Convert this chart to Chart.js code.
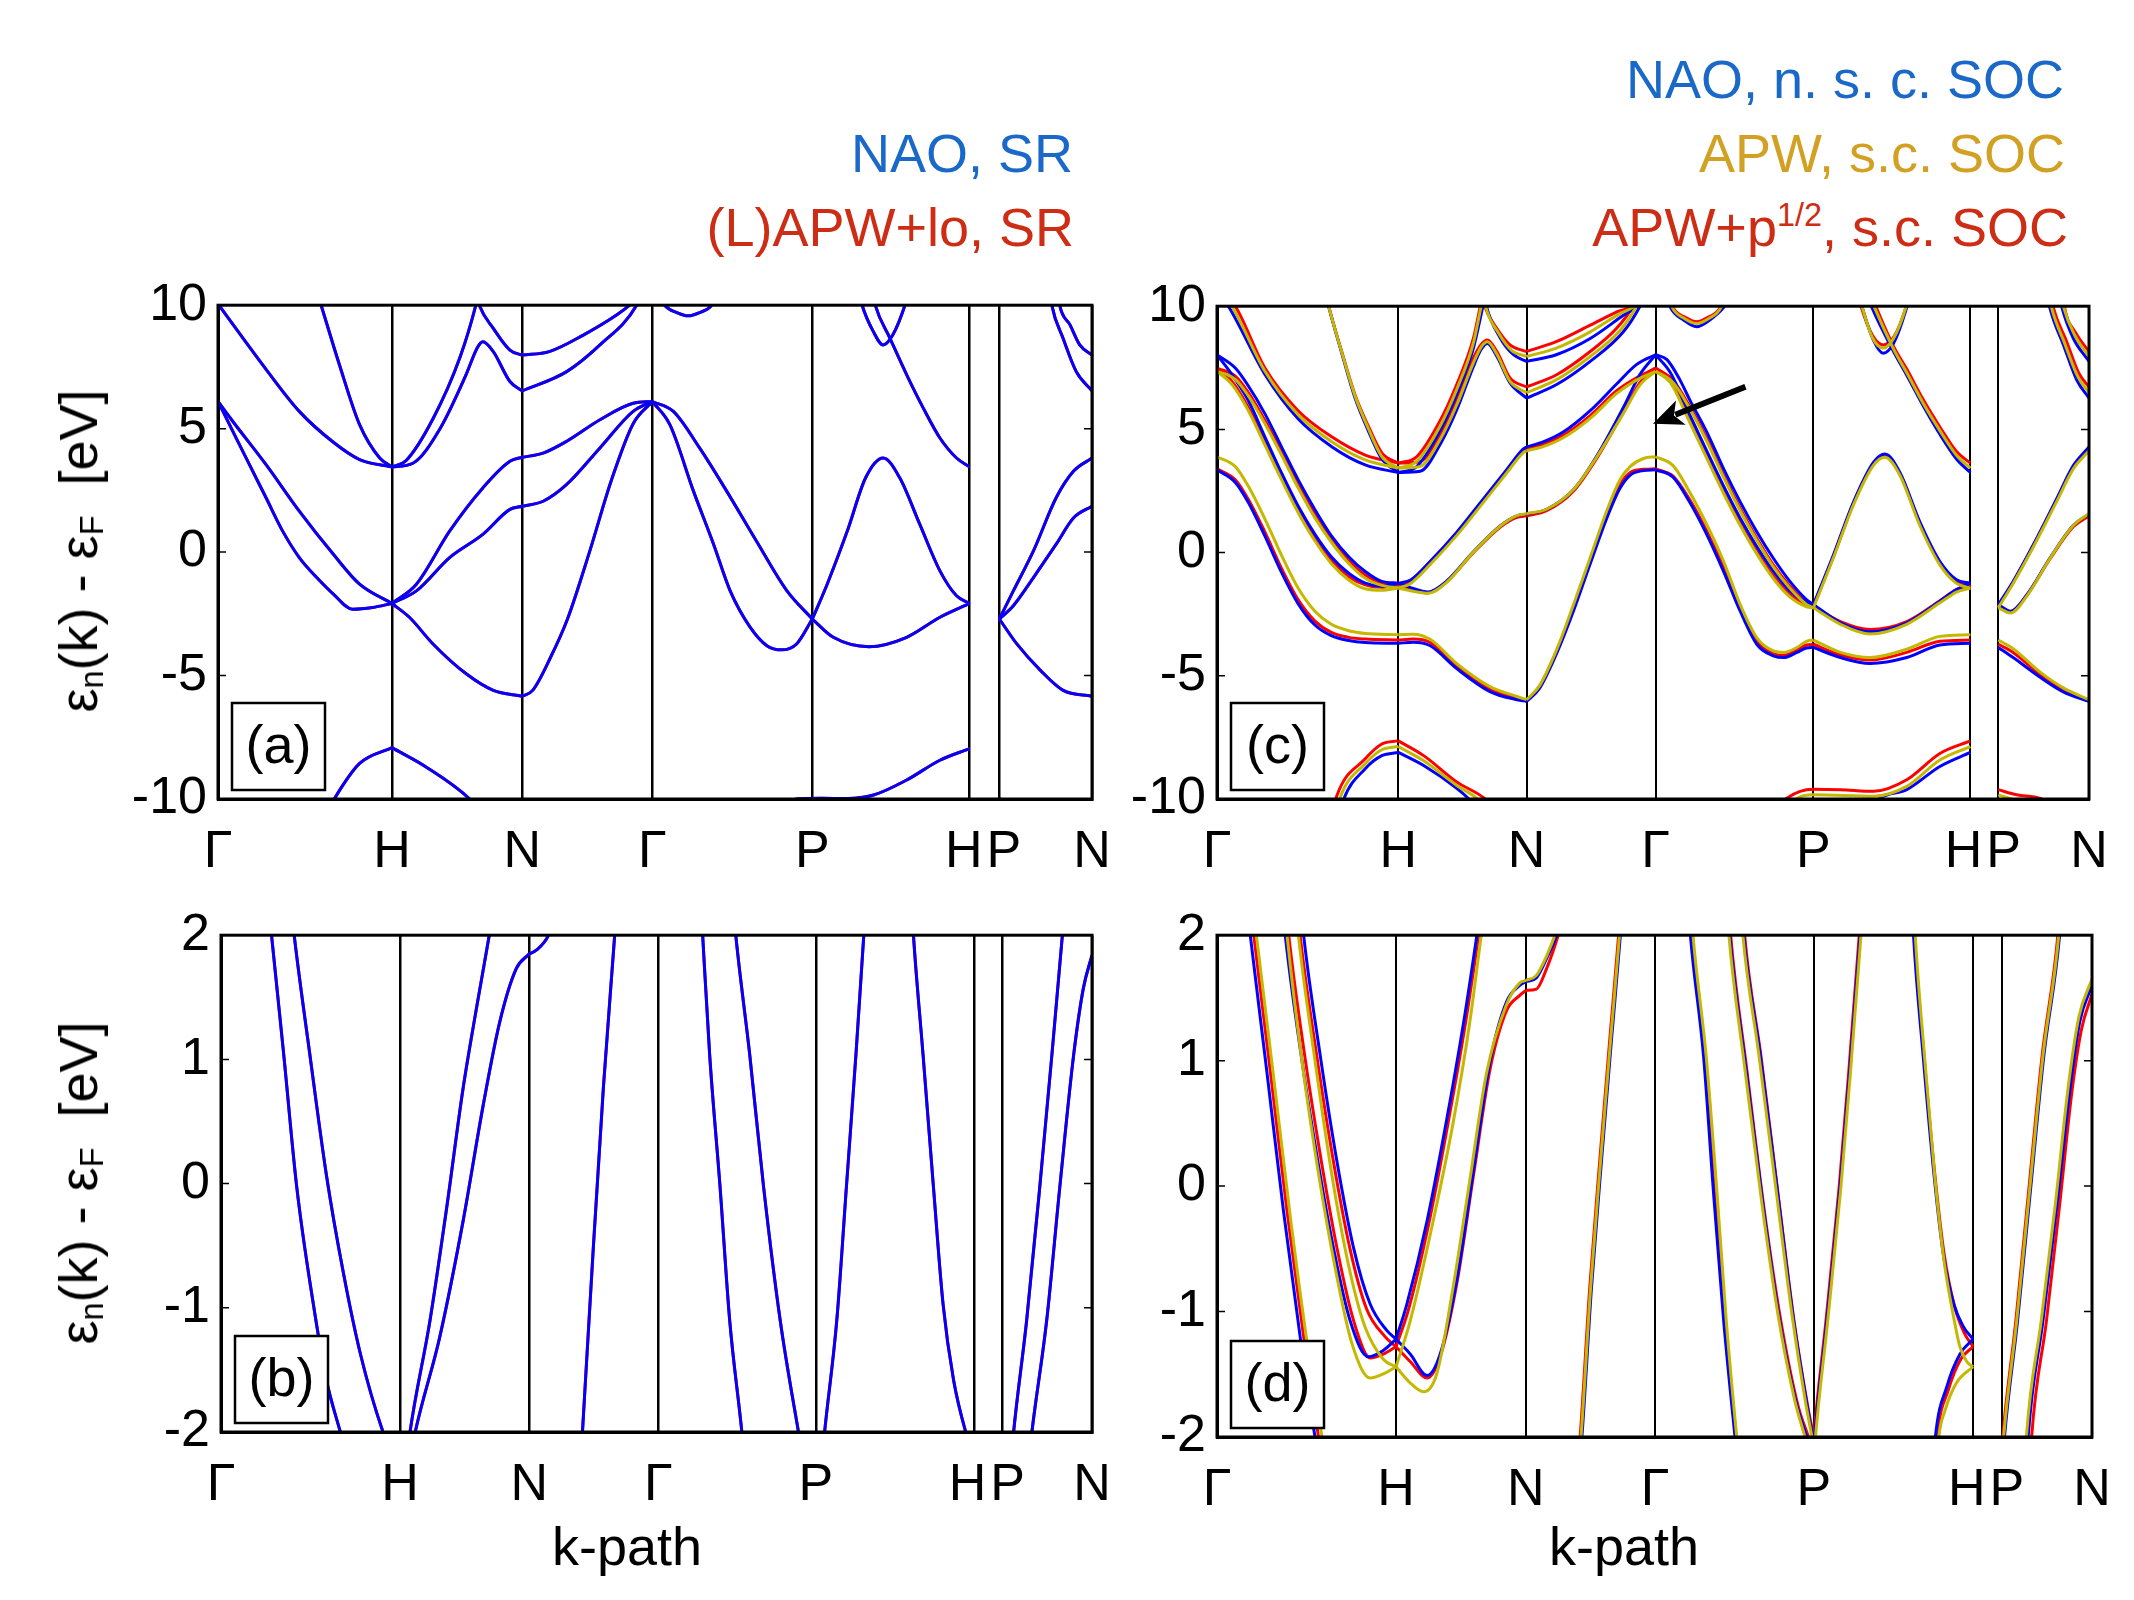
<!DOCTYPE html>
<html>
<head>
<meta charset="utf-8">
<script src="https://cdn.jsdelivr.net/npm/chart.js@4.4.1/dist/chart.umd.min.js"></script>
<style>
body { margin: 0; background: #fff; }
#page { position: relative; width: 2134px; height: 1600px; overflow: hidden; font-family: 'Liberation Sans', Arial, sans-serif; }
canvas { position: absolute; }
.leg { position: absolute; font-size: 54px; line-height: 54px; white-space: nowrap; text-align: right; }
.ytitle { position: absolute; font-size: 54px; line-height: 54px; white-space: nowrap; transform: translate(-50%, -50%) rotate(-90deg); }
.xtitle { position: absolute; font-size: 54px; line-height: 54px; white-space: nowrap; transform: translateX(-50%); }
sub { font-size: 60%; vertical-align: -0.2em; line-height: 0; }
sup { font-size: 60%; vertical-align: 0.62em; line-height: 0; }
</style>
</head>
<body>
<div id="page">
  <canvas id="panelA"></canvas>
  <canvas id="panelB"></canvas>
  <canvas id="panelC"></canvas>
  <canvas id="panelD"></canvas>

  <div class="leg" style="right:1061px; top:126px; color:#1a69c9">NAO, SR</div>
  <div class="leg" style="right:1060px; top:200px; color:#cc2d14">(L)APW+lo, SR</div>
  <div class="leg" style="right:70px; top:52px; color:#1a69c9">NAO, n. s. c. SOC</div>
  <div class="leg" style="right:69px; top:126px; color:#d2a023">APW, s.c. SOC</div>
  <div class="leg" style="right:66px; top:200px; color:#cc2d14">APW+p<sup>1/2</sup>, s.c. SOC</div>

  <div class="ytitle" style="left:78px; top:551px">&epsilon;<sub>n</sub>(k) - &epsilon;<sub>F</sub>&nbsp; [eV]</div>
  <div class="ytitle" style="left:78px; top:1183px">&epsilon;<sub>n</sub>(k) - &epsilon;<sub>F</sub>&nbsp; [eV]</div>
  <div class="xtitle" style="left:627px; top:1519px">k-path</div>
  <div class="xtitle" style="left:1624px; top:1519px">k-path</div>
</div>

<script>
// k-path labels and tick positions (fraction of the path) for each panel
const kPathLabels = ['Γ', 'H', 'N', 'Γ', 'P', 'H', 'P', 'N'];
const kTicksA = [0, 0.199, 0.348, 0.497, 0.680, 0.860, 0.894, 1.0];
const kTicksB = [0, 0.2055, 0.354, 0.502, 0.683, 0.865, 0.897, 1.0];
const kTicksC = [0, 0.208, 0.355, 0.503, 0.684, 0.864, 0.896, 1.0];
const kTicksD = [0, 0.2046, 0.353, 0.5006, 0.682, 0.864, 0.897, 1.0];
const eTicksWide = [-10, -5, 0, 5, 10];
const eTicksNarrow = [-2, -1, 0, 1, 2];

// (a) scalar relativistic, NAO; each entry is one band between two high-symmetry points, [k, E]
const bandsA_NAO = [
  [[0,6.1],[0.017,4.89],[0.036,3.54],[0.055,2.20],[0.074,0.85],[0.093,-0.22],[0.113,-1.03],[0.132,-1.70],[0.154,-2.31],[0.177,-2.24],[0.199,-2.08]],
  [[0,6.1],[0.017,5.29],[0.055,3.54],[0.093,1.66],[0.132,-0.09],[0.162,-1.30],[0.199,-2.08]],
  [[0,10.05],[0.055,7.4],[0.093,5.7],[0.132,4.45],[0.162,3.75],[0.199,3.45]],
  [[0.105,11.5],[0.118,10],[0.139,7.58],[0.162,5.16],[0.185,3.81],[0.199,3.45]],
  [[0.115,-11.2],[0.133,-10],[0.162,-8.56],[0.199,-7.92]],
  [[0.199,3.45],[0.215,3.7],[0.246,5.4],[0.277,7.9],[0.295,10],[0.30,10.8]],
  [[0.199,3.45],[0.223,3.6],[0.254,5.0],[0.284,7.2],[0.297,8.3],[0.303,8.52],[0.315,8.12],[0.334,6.91],[0.348,6.53]],
  [[0.293,10.8],[0.299,10],[0.315,9.06],[0.334,8.18],[0.348,7.98]],
  [[0.199,-2.08],[0.227,-1.30],[0.265,0.85],[0.303,2.60],[0.334,3.68],[0.348,3.84]],
  [[0.199,-2.08],[0.227,-1.57],[0.265,-0.22],[0.303,0.72],[0.334,1.73],[0.348,1.86]],
  [[0.199,-2.08],[0.219,-2.64],[0.246,-3.72],[0.284,-4.93],[0.315,-5.60],[0.348,-5.84]],
  [[0.199,-7.92],[0.238,-8.7],[0.288,-10],[0.30,-10.5]],
  [[0.348,7.98],[0.379,8.12],[0.418,8.79],[0.456,9.6],[0.471,10],[0.48,10.3]],
  [[0.348,6.53],[0.399,7.31],[0.437,8.39],[0.479,10],[0.485,10.5]],
  [[0.348,3.84],[0.372,4.01],[0.399,4.49],[0.437,5.36],[0.475,6.03],[0.497,6.1]],
  [[0.348,1.86],[0.372,2.06],[0.399,2.74],[0.437,4.22],[0.475,5.70],[0.497,6.1]],
  [[0.348,-5.84],[0.36,-5.6],[0.38,-4.3],[0.40,-2.7],[0.425,0],[0.45,2.9],[0.475,5.2],[0.497,6.1]],
  [[0.497,6.1],[0.517,5.16],[0.544,2.47],[0.567,0.32],[0.586,-1.57],[0.609,-3.05],[0.628,-3.79],[0.645,-3.96],[0.662,-3.72],[0.680,-2.71]],
  [[0.497,6.1],[0.521,5.7],[0.551,4.22],[0.582,2.47],[0.616,0.45],[0.651,-1.57],[0.680,-2.71]],
  [[0.503,10.5],[0.511,10],[0.525,9.70],[0.538,9.57],[0.551,9.70],[0.565,10],[0.572,10.5]],
  [[0.680,-2.71],[0.697,-1.30],[0.720,0.85],[0.741,3.01],[0.761,3.81],[0.780,3.01],[0.803,1.12],[0.826,-0.76],[0.845,-1.77],[0.860,-2.08]],
  [[0.680,-2.71],[0.704,-3.45],[0.745,-3.83],[0.788,-3.45],[0.826,-2.64],[0.860,-2.08]],
  [[0.64,-10.5],[0.662,-10],[0.690,-9.97],[0.720,-9.98],[0.750,-9.84],[0.788,-9.23],[0.826,-8.43],[0.860,-7.96]],
  [[0.749,10.5],[0.752,10],[0.769,8.65],[0.788,7.18],[0.807,5.83],[0.826,4.62],[0.845,3.81],[0.860,3.45]],
  [[0.733,10.6],[0.737,10],[0.750,8.92],[0.761,8.39],[0.772,8.79],[0.786,10],[0.79,10.5]],
  [[0.894,-2.71],[0.910,-1.57],[0.933,0.05],[0.959,2.2],[0.979,3.28],[1.0,3.81]],
  [[0.894,-2.71],[0.910,-2.17],[0.933,-1.03],[0.959,0.32],[0.979,1.39],[1.0,1.86]],
  [[0.894,-2.71],[0.914,-3.72],[0.941,-4.79],[0.967,-5.6],[1.0,-5.84]],
  [[0.952,10.5],[0.954,10],[0.967,8.65],[0.982,7.31],[1.0,6.53]],
  [[0.961,10.5],[0.963,10],[0.975,9.19],[0.986,8.39],[1.0,7.98]],
  [[0.894,-10],[0.914,-10.17],[0.941,-10.44]]
];
// (L)APW+lo lies exactly under the NAO curves in the picture
const bandsA_LAPW = bandsA_NAO;

// (b) zoom around the Fermi level, scalar relativistic
const bandsB_NAO = [
  [[0.045,2.9],[0.058,2.0],[0.072,1.04],[0.087,-0.03],[0.106,-0.97],[0.121,-1.58],[0.137,-2.0],[0.145,-2.2]],
  [[0.072,2.8],[0.084,2.0],[0.102,1.04],[0.121,0.07],[0.140,-0.70],[0.160,-1.37],[0.186,-2.0],[0.195,-2.15]],
  [[0.210,-2.4],[0.217,-2.0],[0.240,-1.10],[0.259,-0.20],[0.278,0.77],[0.294,1.44],[0.308,2.0],[0.315,2.3]],
  [[0.215,-2.3],[0.223,-2.0],[0.251,-1.24],[0.278,-0.30],[0.301,0.63],[0.320,1.30],[0.339,1.73],[0.354,1.85]],
  [[0.354,1.85],[0.362,1.88],[0.376,2.0],[0.385,2.2]],
  [[0.410,-2.6],[0.415,-2.0],[0.427,-0.57],[0.439,0.77],[0.452,2.0],[0.457,2.5]],
  [[0.549,2.5],[0.553,2.0],[0.561,1.04],[0.573,-0.03],[0.584,-1.10],[0.598,-2.0],[0.602,-2.3]],
  [[0.586,2.4],[0.591,2.0],[0.607,1.04],[0.623,-0.03],[0.642,-1.10],[0.663,-2.0],[0.668,-2.2]],
  [[0.689,-2.3],[0.693,-2.0],[0.707,-1.10],[0.718,-0.03],[0.729,1.04],[0.738,2.0],[0.741,2.3]],
  [[0.791,2.5],[0.795,2.0],[0.806,1.04],[0.818,-0.03],[0.829,-0.97],[0.841,-1.58],[0.855,-2.0],[0.86,-2.1]],
  [[0.905,-2.4],[0.910,-2.0],[0.925,-1.10],[0.940,-0.03],[0.954,1.04],[0.966,2.0],[0.97,2.3]],
  [[0.925,-2.4],[0.931,-2.0],[0.948,-1.10],[0.963,-0.03],[0.979,1.04],[0.990,1.57],[1.0,1.84]]
];
const bandsB_LAPW = bandsB_NAO;

// (c) with spin-orbit coupling: NAO (non self-consistent), APW, APW+p1/2
const bandsC_NAO = [
  [[0.0,10.6],[0.013,10],[0.055,7.23],[0.093,5.43],[0.132,4.29],[0.170,3.56],[0.208,3.25]],
  [[0.124,10.6],[0.128,10],[0.143,8.1],[0.158,6.3],[0.174,4.9],[0.189,3.8],[0.208,3.25]],
  [[0,8.03],[0.021,7.49],[0.036,6.76],[0.055,5.63],[0.074,4.29],[0.093,2.96],[0.112,1.76],[0.131,0.69],[0.151,-0.17],[0.170,-0.77],[0.189,-1.17],[0.208,-1.24]],
  [[0,8.03],[0.017,7.23],[0.036,6.16],[0.055,4.69],[0.074,3.23],[0.093,1.89],[0.112,0.76],[0.131,-0.17],[0.151,-0.84],[0.170,-1.24],[0.189,-1.37],[0.208,-1.24]],
  [[0,3.36],[0.021,2.85],[0.036,2.03],[0.055,0.67],[0.074,-0.80],[0.093,-2.07],[0.112,-2.93],[0.131,-3.37],[0.151,-3.57],[0.170,-3.65],[0.208,-3.68]],
  [[0.138,-11],[0.145,-10.04],[0.170,-8.77],[0.189,-8.24],[0.208,-8.11]],
  [[0.208,3.25],[0.229,3.49],[0.256,4.96],[0.275,6.43],[0.294,8.29],[0.305,10],[0.309,10.6]],
  [[0.208,3.25],[0.233,3.3],[0.256,4.4],[0.275,5.8],[0.294,7.55],[0.303,8.25],[0.310,8.49],[0.321,7.96],[0.336,6.89],[0.355,6.27]],
  [[0.306,10.6],[0.309,10],[0.325,8.7],[0.340,8.03],[0.355,7.76]],
  [[0.208,-1.24],[0.222,-1.11],[0.244,-0.37],[0.275,0.83],[0.305,2.16],[0.332,3.36],[0.351,4.2],[0.355,4.29]],
  [[0.208,-1.24],[0.222,-1.42],[0.242,-1.6],[0.263,-1.17],[0.294,0.03],[0.325,1.09],[0.344,1.49],[0.355,1.56]],
  [[0.208,-3.68],[0.225,-3.64],[0.244,-3.77],[0.275,-4.71],[0.313,-5.64],[0.344,-5.97],[0.355,-6.04]],
  [[0.208,-8.11],[0.237,-8.64],[0.275,-9.57],[0.290,-10.04],[0.30,-10.5]],
  [[0.355,7.76],[0.389,8.03],[0.428,8.69],[0.466,9.63],[0.481,10],[0.487,10.3]],
  [[0.355,6.27],[0.390,6.83],[0.428,7.76],[0.466,8.96],[0.485,10],[0.49,10.4]],
  [[0.355,4.29],[0.374,4.49],[0.397,4.89],[0.428,5.76],[0.458,6.83],[0.481,7.63],[0.503,8.03]],
  [[0.355,1.56],[0.378,1.76],[0.409,2.56],[0.435,3.89],[0.466,5.89],[0.485,7.23],[0.503,8.03]],
  [[0.355,-6.04],[0.370,-5.5],[0.390,-4.05],[0.409,-2.35],[0.428,-0.45],[0.447,1.4],[0.462,2.6],[0.474,3.15],[0.489,3.33],[0.503,3.36]],
  [[0.503,8.03],[0.516,7.83],[0.531,7.0],[0.542,6.21],[0.562,4.87],[0.581,3.40],[0.600,2.06],[0.619,0.85],[0.638,-0.23],[0.657,-1.17],[0.676,-1.91],[0.684,-2.11]],
  [[0.503,8.03],[0.520,7.3],[0.542,5.6],[0.562,4.1],[0.581,2.7],[0.600,1.4],[0.619,0.25],[0.638,-0.75],[0.657,-1.55],[0.676,-2.02],[0.684,-2.11]],
  [[0.503,3.36],[0.523,3.06],[0.542,2.05],[0.562,0.71],[0.581,-0.77],[0.600,-2.38],[0.619,-3.72],[0.638,-4.19],[0.650,-4.26],[0.665,-4.05],[0.676,-3.87],[0.684,-3.85]],
  [[0.515,10.5],[0.520,9.95],[0.535,9.44],[0.550,9.17],[0.565,9.44],[0.581,9.95],[0.59,10.5]],
  [[0.684,-2.11],[0.707,-0.09],[0.730,2.06],[0.753,3.67],[0.766,4.0],[0.783,3.26],[0.806,1.25],[0.829,-0.36],[0.848,-1.10],[0.864,-1.24]],
  [[0.684,-2.11],[0.715,-2.85],[0.749,-3.21],[0.791,-2.85],[0.829,-1.97],[0.848,-1.50],[0.864,-1.24]],
  [[0.684,-3.85],[0.715,-4.26],[0.749,-4.5],[0.791,-4.26],[0.829,-3.75],[0.864,-3.68]],
  [[0.745,10.5],[0.751,9.95],[0.776,8.15],[0.791,7.2],[0.810,5.95],[0.829,4.8],[0.848,3.8],[0.864,3.25]],
  [[0.736,10.5],[0.740,9.95],[0.753,8.6],[0.764,8.09],[0.776,8.5],[0.791,9.95],[0.795,10.5]],
  [[0.752,-10.3],[0.760,-9.98],[0.791,-9.62],[0.829,-8.68],[0.864,-8.11]],
  [[0.896,-2.11],[0.913,-1.17],[0.936,0.31],[0.963,2.19],[0.982,3.53],[1.0,4.29]],
  [[0.896,-2.11],[0.910,-2.38],[0.929,-1.70],[0.955,-0.23],[0.982,1.11],[1.0,1.56]],
  [[0.896,-3.85],[0.913,-4.26],[0.944,-5.06],[0.971,-5.66],[1.0,-6.04]],
  [[0.952,10.5],[0.955,9.95],[0.971,8.4],[0.986,7.0],[1.0,6.27]],
  [[0.966,10.5],[0.969,9.95],[0.982,8.7],[1.0,7.76]]
];
const bandsC_APW = [
  [[0.003,10.6],[0.017,10],[0.055,7.36],[0.093,5.60],[0.132,4.49],[0.170,3.76],[0.208,3.43]],
  [[0.124,10.6],[0.128,10],[0.143,8.14],[0.158,6.39],[0.174,5.0],[0.189,3.9],[0.208,3.43]],
  [[0,7.36],[0.021,7.03],[0.036,6.36],[0.055,5.23],[0.074,3.96],[0.093,2.63],[0.112,1.43],[0.131,0.43],[0.151,-0.44],[0.170,-1.04],[0.189,-1.33],[0.208,-1.44]],
  [[0,7.36],[0.017,6.83],[0.036,5.76],[0.055,4.36],[0.074,2.96],[0.093,1.63],[0.112,0.49],[0.131,-0.44],[0.151,-1.11],[0.170,-1.47],[0.189,-1.53],[0.208,-1.44]],
  [[0,3.89],[0.021,3.49],[0.036,2.69],[0.055,1.36],[0.074,-0.11],[0.093,-1.44],[0.112,-2.37],[0.131,-2.91],[0.151,-3.17],[0.170,-3.28],[0.208,-3.33]],
  [[0.134,-11],[0.141,-9.97],[0.170,-8.57],[0.189,-8.0],[0.208,-7.87]],
  [[0.208,3.43],[0.229,3.7],[0.256,5.15],[0.275,6.63],[0.294,8.5],[0.303,10],[0.307,10.6]],
  [[0.208,3.43],[0.233,3.5],[0.256,4.6],[0.275,6.0],[0.294,7.7],[0.303,8.35],[0.310,8.56],[0.321,8.05],[0.336,6.95],[0.355,6.49]],
  [[0.305,10.6],[0.308,10],[0.323,8.9],[0.338,8.2],[0.355,7.96]],
  [[0.208,-1.44],[0.222,-1.25],[0.244,-0.5],[0.275,0.7],[0.305,2.02],[0.332,3.22],[0.351,4.05],[0.355,4.13]],
  [[0.208,-1.44],[0.222,-1.55],[0.242,-1.65],[0.263,-1.22],[0.294,0.02],[0.325,1.08],[0.344,1.5],[0.355,1.58]],
  [[0.208,-3.33],[0.225,-3.31],[0.244,-3.51],[0.275,-4.51],[0.313,-5.44],[0.344,-5.84],[0.355,-5.97]],
  [[0.208,-7.87],[0.237,-8.45],[0.275,-9.45],[0.300,-10.04],[0.31,-10.5]],
  [[0.355,7.96],[0.389,8.3],[0.428,8.96],[0.462,9.7],[0.478,10],[0.484,10.3]],
  [[0.355,6.49],[0.390,7.03],[0.428,7.96],[0.462,9.0],[0.481,10],[0.486,10.4]],
  [[0.355,4.13],[0.374,4.3],[0.397,4.66],[0.428,5.45],[0.458,6.45],[0.481,7.0],[0.503,7.36]],
  [[0.355,1.58],[0.378,1.76],[0.409,2.56],[0.435,3.85],[0.466,5.65],[0.485,6.8],[0.503,7.36]],
  [[0.355,-5.97],[0.370,-5.4],[0.390,-3.9],[0.409,-2.1],[0.428,-0.2],[0.447,1.7],[0.462,2.95],[0.474,3.5],[0.489,3.82],[0.503,3.89]],
  [[0.503,7.36],[0.523,6.9],[0.542,5.85],[0.562,4.5],[0.581,3.05],[0.600,1.7],[0.619,0.5],[0.638,-0.58],[0.657,-1.45],[0.676,-2.1],[0.684,-2.24]],
  [[0.503,7.36],[0.520,6.9],[0.542,5.3],[0.562,3.8],[0.581,2.4],[0.600,1.1],[0.619,-0.05],[0.638,-1.05],[0.657,-1.8],[0.676,-2.2],[0.684,-2.24]],
  [[0.503,3.89],[0.523,3.53],[0.542,2.46],[0.562,1.11],[0.581,-0.36],[0.600,-2.11],[0.619,-3.45],[0.638,-3.99],[0.650,-4.05],[0.665,-3.85],[0.676,-3.6],[0.684,-3.55]],
  [[0.517,10.5],[0.522,9.95],[0.536,9.5],[0.550,9.30],[0.564,9.5],[0.578,9.95],[0.583,10.5]],
  [[0.684,-2.24],[0.707,-0.2],[0.730,1.95],[0.753,3.55],[0.766,3.87],[0.783,3.15],[0.806,1.1],[0.829,-0.5],[0.848,-1.25],[0.864,-1.44]],
  [[0.684,-2.24],[0.715,-2.91],[0.749,-3.3],[0.791,-2.91],[0.829,-2.04],[0.848,-1.6],[0.864,-1.44]],
  [[0.684,-3.55],[0.715,-4.05],[0.749,-4.26],[0.791,-3.92],[0.829,-3.4],[0.864,-3.33]],
  [[0.748,10.5],[0.754,9.95],[0.776,8.25],[0.791,7.3],[0.810,6.05],[0.829,4.95],[0.848,3.95],[0.864,3.43]],
  [[0.736,10.5],[0.740,9.95],[0.752,8.7],[0.764,8.30],[0.776,8.7],[0.790,9.95],[0.794,10.5]],
  [[0.658,-10.3],[0.665,-9.98],[0.684,-9.83],[0.753,-9.89],[0.791,-9.49],[0.829,-8.42],[0.864,-7.87]],
  [[0.896,-2.24],[0.913,-1.25],[0.936,0.22],[0.963,2.08],[0.982,3.4],[1.0,4.13]],
  [[0.896,-2.24],[0.910,-2.45],[0.929,-1.75],[0.955,-0.25],[0.982,1.1],[1.0,1.58]],
  [[0.896,-3.55],[0.913,-3.9],[0.944,-4.85],[0.971,-5.5],[1.0,-5.97]],
  [[0.954,10.5],[0.957,9.95],[0.972,8.5],[0.987,7.15],[1.0,6.49]],
  [[0.968,10.5],[0.971,9.95],[0.984,8.8],[1.0,7.96]],
  [[0.896,-9.83],[0.92,-10.1],[0.94,-10.4]]
];
const bandsC_APWp = [
  [[0.006,10.6],[0.021,10],[0.055,7.49],[0.093,5.76],[0.132,4.69],[0.170,3.96],[0.208,3.63]],
  [[0.124,10.6],[0.128,10],[0.143,8.16],[0.158,6.43],[0.174,5.1],[0.189,4.05],[0.208,3.63]],
  [[0,7.49],[0.021,7.16],[0.036,6.49],[0.055,5.36],[0.074,4.09],[0.093,2.76],[0.112,1.56],[0.131,0.56],[0.151,-0.31],[0.170,-0.91],[0.189,-1.24],[0.208,-1.31]],
  [[0,7.49],[0.017,6.96],[0.036,5.89],[0.055,4.49],[0.074,3.09],[0.093,1.76],[0.112,0.63],[0.131,-0.31],[0.151,-0.97],[0.170,-1.31],[0.189,-1.41],[0.208,-1.31]],
  [[0,3.40],[0.021,2.96],[0.036,2.16],[0.055,0.83],[0.074,-0.64],[0.093,-1.91],[0.112,-2.77],[0.131,-3.24],[0.151,-3.44],[0.170,-3.51],[0.208,-3.55]],
  [[0.130,-11],[0.137,-9.91],[0.170,-8.37],[0.189,-7.77],[0.208,-7.64]],
  [[0.208,3.63],[0.229,3.89],[0.256,5.36],[0.275,6.83],[0.294,8.69],[0.302,10],[0.306,10.6]],
  [[0.208,3.63],[0.233,3.7],[0.256,4.8],[0.275,6.2],[0.294,7.9],[0.303,8.45],[0.310,8.63],[0.321,8.16],[0.336,7.09],[0.355,6.72]],
  [[0.303,10.6],[0.307,10],[0.321,9.09],[0.336,8.43],[0.355,8.16]],
  [[0.208,-1.31],[0.222,-1.15],[0.244,-0.42],[0.275,0.78],[0.305,2.1],[0.332,3.3],[0.351,4.14],[0.355,4.23]],
  [[0.208,-1.31],[0.222,-1.48],[0.242,-1.63],[0.263,-1.2],[0.294,0.0],[0.325,1.04],[0.344,1.43],[0.355,1.49]],
  [[0.208,-3.55],[0.225,-3.51],[0.244,-3.64],[0.275,-4.6],[0.313,-5.55],[0.344,-5.9],[0.355,-6.0]],
  [[0.208,-7.64],[0.237,-8.24],[0.275,-9.31],[0.309,-10.04],[0.32,-10.5]],
  [[0.355,8.16],[0.389,8.56],[0.428,9.23],[0.458,9.76],[0.474,10],[0.48,10.3]],
  [[0.355,6.72],[0.390,7.23],[0.428,8.16],[0.458,9.09],[0.477,10],[0.482,10.4]],
  [[0.355,4.23],[0.374,4.40],[0.397,4.76],[0.428,5.56],[0.458,6.56],[0.481,7.09],[0.503,7.49]],
  [[0.355,1.49],[0.378,1.7],[0.409,2.5],[0.435,3.8],[0.466,5.7],[0.485,6.9],[0.503,7.49]],
  [[0.355,-6.0],[0.370,-5.42],[0.390,-3.95],[0.409,-2.2],[0.428,-0.3],[0.447,1.55],[0.462,2.75],[0.474,3.25],[0.489,3.38],[0.503,3.40]],
  [[0.503,7.49],[0.523,7.0],[0.542,5.94],[0.562,4.60],[0.581,3.13],[0.600,1.79],[0.619,0.58],[0.638,-0.50],[0.657,-1.37],[0.676,-2.04],[0.684,-2.17]],
  [[0.503,7.49],[0.520,7.0],[0.542,5.4],[0.562,3.9],[0.581,2.5],[0.600,1.2],[0.619,0.05],[0.638,-0.95],[0.657,-1.7],[0.676,-2.12],[0.684,-2.17]],
  [[0.503,3.40],[0.523,3.1],[0.542,2.15],[0.562,0.85],[0.581,-0.6],[0.600,-2.25],[0.619,-3.6],[0.638,-4.1],[0.650,-4.17],[0.665,-3.95],[0.676,-3.75],[0.684,-3.72]],
  [[0.518,10.5],[0.523,9.95],[0.537,9.55],[0.550,9.37],[0.563,9.55],[0.577,9.95],[0.582,10.5]],
  [[0.684,-2.17],[0.707,-0.15],[0.730,2.0],[0.753,3.6],[0.766,3.93],[0.783,3.2],[0.806,1.18],[0.829,-0.43],[0.848,-1.18],[0.864,-1.31]],
  [[0.684,-2.17],[0.715,-2.8],[0.749,-3.12],[0.791,-2.8],[0.829,-1.95],[0.848,-1.5],[0.864,-1.31]],
  [[0.684,-3.72],[0.715,-4.15],[0.749,-4.36],[0.791,-4.05],[0.829,-3.6],[0.864,-3.55]],
  [[0.750,10.5],[0.756,9.95],[0.776,8.36],[0.791,7.45],[0.810,6.2],[0.829,5.1],[0.848,4.1],[0.864,3.63]],
  [[0.735,10.5],[0.739,9.95],[0.752,8.8],[0.764,8.43],[0.777,8.8],[0.790,9.95],[0.794,10.5]],
  [[0.645,-10.3],[0.653,-9.98],[0.684,-9.6],[0.715,-9.62],[0.753,-9.69],[0.791,-9.22],[0.829,-8.15],[0.864,-7.64]],
  [[0.896,-2.17],[0.913,-1.2],[0.936,0.28],[0.963,2.15],[0.982,3.48],[1.0,4.23]],
  [[0.896,-2.17],[0.910,-2.4],[0.929,-1.72],[0.955,-0.27],[0.982,1.05],[1.0,1.49]],
  [[0.896,-3.72],[0.913,-4.05],[0.944,-4.95],[0.971,-5.58],[1.0,-6.0]],
  [[0.956,10.5],[0.959,9.95],[0.974,8.6],[0.988,7.3],[1.0,6.72]],
  [[0.970,10.5],[0.972,9.95],[0.985,8.9],[1.0,8.16]],
  [[0.896,-9.62],[0.917,-9.83],[0.944,-9.98],[0.96,-10.3]]
];

// (d) zoom around the Fermi level with spin-orbit coupling
const bandsD_NAO = [
  [[0.033,2.3],[0.038,2.0],[0.057,0.91],[0.076,-0.2],[0.095,-1.2],[0.112,-2.0],[0.117,-2.2]],
  [[0.074,2.3],[0.078,2.0],[0.095,1.10],[0.114,0.25],[0.133,-0.49],[0.152,-1.07],[0.173,-1.36],[0.190,-1.31],[0.2046,-1.22]],
  [[0.095,2.3],[0.099,2.0],[0.118,1.04],[0.137,0.2],[0.156,-0.49],[0.175,-0.94],[0.194,-1.15],[0.2046,-1.22]],
  [[0.2046,-1.22],[0.217,-0.94],[0.240,-0.28],[0.262,0.51],[0.282,1.31],[0.297,2.0],[0.30,2.15]],
  [[0.2046,-1.22],[0.221,-1.34],[0.240,-1.51],[0.255,-1.34],[0.274,-0.75],[0.293,0.12],[0.312,0.99],[0.331,1.47],[0.346,1.60],[0.353,1.63]],
  [[0.353,1.63],[0.365,1.66],[0.377,1.82],[0.388,2.0],[0.392,2.1]],
  [[0.413,-2.3],[0.417,-2.0],[0.428,-0.81],[0.440,0.25],[0.451,1.18],[0.461,2.0],[0.464,2.3]],
  [[0.539,2.2],[0.541,2.0],[0.556,1.04],[0.567,-0.01],[0.579,-1.07],[0.592,-2.0],[0.595,-2.2]],
  [[0.583,2.3],[0.586,2.0],[0.605,0.91],[0.624,-0.15],[0.643,-1.07],[0.662,-1.73],[0.674,-2.0]],
  [[0.599,2.3],[0.602,2.0],[0.621,1.04],[0.640,-0.01],[0.659,-1.07],[0.674,-1.73],[0.681,-2.0]],
  [[0.680,-2.3],[0.683,-2.0],[0.697,-1.07],[0.712,-0.01],[0.723,0.91],[0.735,2.0],[0.738,2.3]],
  [[0.794,2.3],[0.796,2.0],[0.807,1.04],[0.819,0.12],[0.830,-0.54],[0.842,-0.94],[0.853,-1.12],[0.864,-1.22]],
  [[0.819,-2.2],[0.821,-2.0],[0.834,-1.60],[0.849,-1.34],[0.864,-1.22]],
  [[0.897,-2.3],[0.900,-2.0],[0.915,-1.07],[0.930,-0.01],[0.945,1.04],[0.963,2.0],[0.966,2.3]],
  [[0.924,-2.4],[0.927,-2.0],[0.944,-1.07],[0.960,-0.15],[0.975,0.78],[0.986,1.31],[1.0,1.6]]
];
const bandsD_APW = [
  [[0.040,2.3],[0.045,2.0],[0.064,0.91],[0.083,-0.2],[0.102,-1.2],[0.120,-2.0],[0.125,-2.2]],
  [[0.076,2.3],[0.080,2.0],[0.097,1.0],[0.116,0.1],[0.135,-0.65],[0.154,-1.25],[0.175,-1.53],[0.192,-1.49],[0.2046,-1.44]],
  [[0.089,2.3],[0.093,2.0],[0.112,1.0],[0.131,0.1],[0.150,-0.62],[0.169,-1.12],[0.190,-1.38],[0.2046,-1.44]],
  [[0.2046,-1.44],[0.221,-1.07],[0.247,-0.28],[0.270,0.51],[0.289,1.31],[0.302,2.0],[0.305,2.15]],
  [[0.2046,-1.44],[0.221,-1.57],[0.236,-1.64],[0.251,-1.5],[0.270,-0.8],[0.289,0.05],[0.308,0.9],[0.331,1.45],[0.346,1.62],[0.353,1.64]],
  [[0.353,1.64],[0.365,1.68],[0.377,1.84],[0.386,2.0],[0.39,2.1]],
  [[0.412,-2.3],[0.416,-2.0],[0.427,-0.81],[0.439,0.25],[0.450,1.18],[0.460,2.0],[0.463,2.3]],
  [[0.542,2.2],[0.544,2.0],[0.559,1.04],[0.571,-0.01],[0.582,-1.07],[0.594,-2.0],[0.597,-2.2]],
  [[0.582,2.3],[0.585,2.0],[0.603,0.95],[0.622,-0.1],[0.641,-1.02],[0.660,-1.7],[0.672,-2.0]],
  [[0.598,2.3],[0.601,2.0],[0.619,1.06],[0.638,0.02],[0.657,-1.02],[0.672,-1.7],[0.680,-2.0]],
  [[0.681,-2.3],[0.684,-2.0],[0.698,-1.07],[0.713,-0.01],[0.724,0.91],[0.736,2.0],[0.739,2.3]],
  [[0.796,2.3],[0.798,2.0],[0.809,1.0],[0.820,0.1],[0.831,-0.6],[0.842,-1.05],[0.849,-1.28],[0.857,-1.4],[0.864,-1.44]],
  [[0.823,-2.2],[0.825,-2.0],[0.832,-1.79],[0.845,-1.57],[0.864,-1.44]],
  [[0.896,-2.3],[0.899,-2.0],[0.914,-1.07],[0.929,-0.01],[0.944,1.04],[0.962,2.0],[0.965,2.3]],
  [[0.922,-2.4],[0.925,-2.0],[0.942,-1.07],[0.958,-0.15],[0.973,0.8],[0.985,1.35],[1.0,1.65]]
];
const bandsD_APWp = [
  [[0.037,2.3],[0.042,2.0],[0.061,0.91],[0.080,-0.2],[0.099,-1.2],[0.116,-2.0],[0.121,-2.2]],
  [[0.078,2.3],[0.082,2.0],[0.099,1.10],[0.118,0.25],[0.137,-0.49],[0.156,-1.07],[0.175,-1.37],[0.190,-1.34],[0.2046,-1.28]],
  [[0.091,2.3],[0.095,2.0],[0.114,1.04],[0.133,0.2],[0.152,-0.5],[0.171,-0.98],[0.192,-1.2],[0.2046,-1.28]],
  [[0.2046,-1.28],[0.219,-0.98],[0.242,-0.3],[0.264,0.5],[0.284,1.3],[0.299,2.0],[0.302,2.15]],
  [[0.2046,-1.28],[0.221,-1.40],[0.240,-1.53],[0.255,-1.36],[0.274,-0.78],[0.293,0.08],[0.312,0.93],[0.331,1.40],[0.346,1.52],[0.353,1.56]],
  [[0.353,1.56],[0.365,1.57],[0.377,1.74],[0.390,2.0],[0.394,2.1]],
  [[0.411,-2.3],[0.415,-2.0],[0.426,-0.81],[0.438,0.25],[0.449,1.18],[0.459,2.0],[0.462,2.3]],
  [[0.540,2.2],[0.542,2.0],[0.557,1.04],[0.568,0],[0.580,-1.07],[0.593,-2.0],[0.596,-2.2]],
  [[0.584,2.3],[0.587,2.0],[0.606,0.9],[0.625,-0.17],[0.645,-1.1],[0.664,-1.75],[0.676,-2.0]],
  [[0.600,2.3],[0.603,2.0],[0.622,1.02],[0.641,-0.05],[0.660,-1.1],[0.675,-1.75],[0.682,-2.0]],
  [[0.679,-2.3],[0.682,-2.0],[0.696,-1.07],[0.711,-0.01],[0.722,0.91],[0.734,2.0],[0.737,2.3]],
  [[0.795,2.3],[0.797,2.0],[0.808,1.04],[0.820,0.12],[0.831,-0.54],[0.843,-0.96],[0.854,-1.17],[0.864,-1.28]],
  [[0.821,-2.2],[0.823,-2.0],[0.836,-1.62],[0.850,-1.38],[0.864,-1.28]],
  [[0.895,-2.3],[0.898,-2.0],[0.913,-1.07],[0.928,-0.01],[0.943,1.04],[0.961,2.0],[0.964,2.3]],
  [[0.928,-2.4],[0.931,-2.0],[0.948,-1.07],[0.963,-0.15],[0.977,0.75],[0.988,1.25],[1.0,1.53]]
];

// arrow in panel (c), in data coordinates [k, E]
const arrowTail = [0.606, 6.73];
const arrowTip = [0.500, 5.23];

const BLUE = '#0000ff', RED = '#ff0000', YELLOW = '#c4b800';
const PAD = { l: 130, t: 40, r: 40, b: 110 };

Chart.defaults.font.family = "'Liberation Sans', Arial, sans-serif";
Chart.defaults.color = '#000';

// frame on top/right, inward ticks, k labels, panel tag, arrow
const framePlugin = {
  id: 'frame',
  afterDatasetsDraw(chart, args, o) {
    const { ctx, chartArea: a, scales } = chart;
    const sx = scales.x, sy = scales.y;
    ctx.save();
    ctx.strokeStyle = '#000';
    ctx.lineWidth = 1.5;
    ctx.beginPath();
    sy.ticks.forEach(t => {
      const y = sy.getPixelForValue(t.value);
      ctx.moveTo(a.left, y); ctx.lineTo(a.left + 8, y);
      ctx.moveTo(a.right, y); ctx.lineTo(a.right - 8, y);
    });
    ctx.stroke();
    ctx.lineWidth = 3;
    ctx.strokeRect(a.left, a.top, a.right - a.left, a.bottom - a.top);

    // k-path labels
    ctx.fillStyle = '#000';
    ctx.font = "52px 'Liberation Sans', Arial, sans-serif";
    ctx.textBaseline = 'alphabetic';
    const xs = o.kTicks.map(v => sx.getPixelForValue(v));
    const yl = a.bottom + 68;
    for (let i = 0; i < xs.length; i++) {
      if (i + 1 < xs.length && xs[i + 1] - xs[i] < 40) {
        const mid = (xs[i] + xs[i + 1]) / 2;
        ctx.textAlign = 'right'; ctx.fillText(o.labels[i], mid - 2, yl);
        ctx.textAlign = 'left'; ctx.fillText(o.labels[i + 1], mid + 2, yl);
        i++;
      } else {
        ctx.textAlign = 'center'; ctx.fillText(o.labels[i], xs[i], yl);
      }
    }

    // panel tag box
    const bx = a.left + 14, bw = 93, bh = 87, by = a.bottom - 9 - bh;
    ctx.fillStyle = '#fff';
    ctx.fillRect(bx, by, bw, bh);
    ctx.lineWidth = 2.5;
    ctx.strokeRect(bx, by, bw, bh);
    ctx.fillStyle = '#000';
    ctx.font = "54px 'Liberation Sans', Arial, sans-serif";
    ctx.textAlign = 'center';
    ctx.textBaseline = 'middle';
    ctx.fillText(o.tag, bx + bw / 2, by + bh / 2 + 2);

    if (o.arrow) {
      const x1 = sx.getPixelForValue(o.arrow[0][0]), y1 = sy.getPixelForValue(o.arrow[0][1]);
      const x2 = sx.getPixelForValue(o.arrow[1][0]), y2 = sy.getPixelForValue(o.arrow[1][1]);
      const ang = Math.atan2(y2 - y1, x2 - x1);
      const c = Math.cos(ang), s = Math.sin(ang);
      const hl = 30, hw = 13;
      ctx.lineWidth = 6;
      ctx.lineCap = 'butt';
      ctx.beginPath();
      ctx.moveTo(x1, y1);
      ctx.lineTo(x2 - (hl - 6) * c, y2 - (hl - 6) * s);
      ctx.stroke();
      ctx.beginPath();
      ctx.moveTo(x2, y2);
      ctx.lineTo(x2 - hl * c + hw * s, y2 - hl * s - hw * c);
      ctx.lineTo(x2 - hl * 0.75 * c, y2 - hl * 0.75 * s);
      ctx.lineTo(x2 - hl * c - hw * s, y2 - hl * s + hw * c);
      ctx.closePath();
      ctx.fill();
    }
    ctx.restore();
  }
};

function bandSets(segs, color, width) {
  return segs.map(seg => ({
    data: seg.map(p => ({ x: p[0], y: p[1] })),
    borderColor: color,
    borderWidth: width,
    showLine: true,
    pointRadius: 0,
    fill: false,
    cubicInterpolationMode: 'monotone',
    capBezierPoints: false
  }));
}

function makePanel(p) {
  const cv = document.getElementById(p.id);
  cv.width = p.area.w + PAD.l + PAD.r;
  cv.height = p.area.h + PAD.t + PAD.b;
  cv.style.left = (p.area.x - PAD.l) + 'px';
  cv.style.top = (p.area.y - PAD.t) + 'px';
  // first dataset is drawn on top
  let datasets = [];
  p.series.forEach(s => { datasets = datasets.concat(bandSets(s.segs, s.color, s.width)); });
  new Chart(cv, {
    type: 'scatter',
    data: { datasets },
    options: {
      responsive: false,
      animation: false,
      devicePixelRatio: 1,
      events: [],
      layout: { padding: { left: 0, top: PAD.t, right: PAD.r, bottom: 0 } },
      plugins: {
        legend: { display: false },
        tooltip: { enabled: false },
        frame: { labels: kPathLabels, kTicks: p.kTicks, tag: p.tag, arrow: p.arrow }
      },
      scales: {
        x: {
          type: 'linear', min: 0, max: 1,
          afterBuildTicks: s => { s.ticks = p.kTicks.map(v => ({ value: v })); },
          afterFit: s => { s.height = PAD.b; },
          ticks: { display: false },
          grid: { color: '#000', lineWidth: p.gridWidth, drawTicks: false },
          border: { color: '#000', width: 3 }
        },
        y: {
          type: 'linear', min: p.eTicks[0], max: p.eTicks[p.eTicks.length - 1],
          afterBuildTicks: s => { s.ticks = p.eTicks.map(v => ({ value: v })); },
          afterFit: s => { s.width = PAD.l; },
          ticks: { font: { size: 52 }, padding: 11, color: '#000' },
          grid: { display: false, drawTicks: false },
          border: { color: '#000', width: 3 }
        }
      }
    },
    plugins: [framePlugin]
  });
}

makePanel({
  id: 'panelA', area: { x: 218, y: 303, w: 874, h: 496 }, kTicks: kTicksA, eTicks: eTicksWide, tag: '(a)', gridWidth: 2.5,
  series: [{ segs: bandsA_NAO, color: BLUE, width: 3 }, { segs: bandsA_LAPW, color: RED, width: 3 }]
});
makePanel({
  id: 'panelB', area: { x: 221, y: 933, w: 871, h: 499 }, kTicks: kTicksB, eTicks: eTicksNarrow, tag: '(b)', gridWidth: 2.5,
  series: [{ segs: bandsB_NAO, color: BLUE, width: 3 }, { segs: bandsB_LAPW, color: RED, width: 3 }]
});
makePanel({
  id: 'panelC', area: { x: 1217, y: 304, w: 872, h: 495 }, kTicks: kTicksC, eTicks: eTicksWide, tag: '(c)', gridWidth: 2,
  arrow: [arrowTail, arrowTip],
  series: [{ segs: bandsC_APW, color: YELLOW, width: 3 }, { segs: bandsC_NAO, color: BLUE, width: 3 }, { segs: bandsC_APWp, color: RED, width: 3 }]
});
makePanel({
  id: 'panelD', area: { x: 1217, y: 933, w: 875, h: 504 }, kTicks: kTicksD, eTicks: eTicksNarrow, tag: '(d)', gridWidth: 2,
  series: [{ segs: bandsD_APW, color: YELLOW, width: 3 }, { segs: bandsD_NAO, color: BLUE, width: 3 }, { segs: bandsD_APWp, color: RED, width: 3 }]
});
</script>
</body>
</html>
